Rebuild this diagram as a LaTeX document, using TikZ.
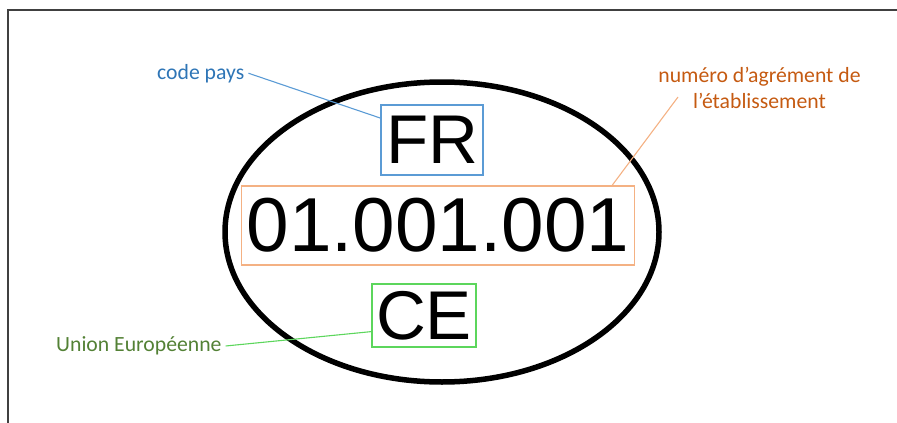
\documentclass[tikz,border=0pt]{standalone}
\usepackage{fontspec}
\setmainfont{Carlito}
\newfontfamily\platefont{Liberation Sans}
\definecolor{paysblue}{HTML}{2E75B6}
\definecolor{paysline}{HTML}{5B9BD5}
\definecolor{agrorange}{HTML}{C55A11}
\definecolor{agrline}{HTML}{F4B183}
\definecolor{cegreen}{HTML}{538135}
\definecolor{celine}{HTML}{5CD65C}
\definecolor{framegray}{HTML}{404040}

\begin{document}
\begin{tikzpicture}[x=1pt,y=-1pt,
  markbox/.style={draw, line width=1.4pt, inner sep=0pt, font=\platefont},
  labeltext/.style={font=\fontsize{21.7}{26}\selectfont, inner sep=4pt},
  link/.style={line width=1.1pt}]
\useasboundingbox (0,0) rectangle (897,423);
% frame of the screenshot
\draw[framegray, line width=1.4pt] (8,423) -- (8,10) -- (897,10);

% oval mark
\draw[line width=5.5pt] (442,232) ellipse [x radius=217pt, y radius=150pt];

\node[markbox, paysline, text=black, minimum width=102pt, minimum height=70pt,
      font=\platefont\fontsize{69}{69}\selectfont] (fr) at (432,140) {FR};
\node[markbox, agrline, text=black, minimum width=393pt, minimum height=79pt,
      font=\platefont\fontsize{76.5}{76.5}\selectfont] (num) at (438,225.5) {01.001.001};
\node[markbox, celine, text=black, minimum width=104pt, minimum height=63pt,
      font=\platefont\fontsize{69}{69}\selectfont] (ce) at (424,315.5) {CE};

% labels
\node[labeltext, paysblue, anchor=base west] (pays) at (153,79) {code pays};
\node[labeltext, agrorange, align=center, anchor=base] (agr) at (759.5,108)
  {numéro d’agrément de\\l’établissement};
\node[labeltext, cegreen, anchor=base west] (union) at (52,351.7) {Union Européenne};
\coordinate (agrtip) at (678,97);

\draw[link, paysline] (pays.east) -- (fr.157);
\draw[link, agrline] (agrtip) -- (num.13);
\draw[link, celine] (union.east) -- (ce.197.6);
\end{tikzpicture}
\end{document}
